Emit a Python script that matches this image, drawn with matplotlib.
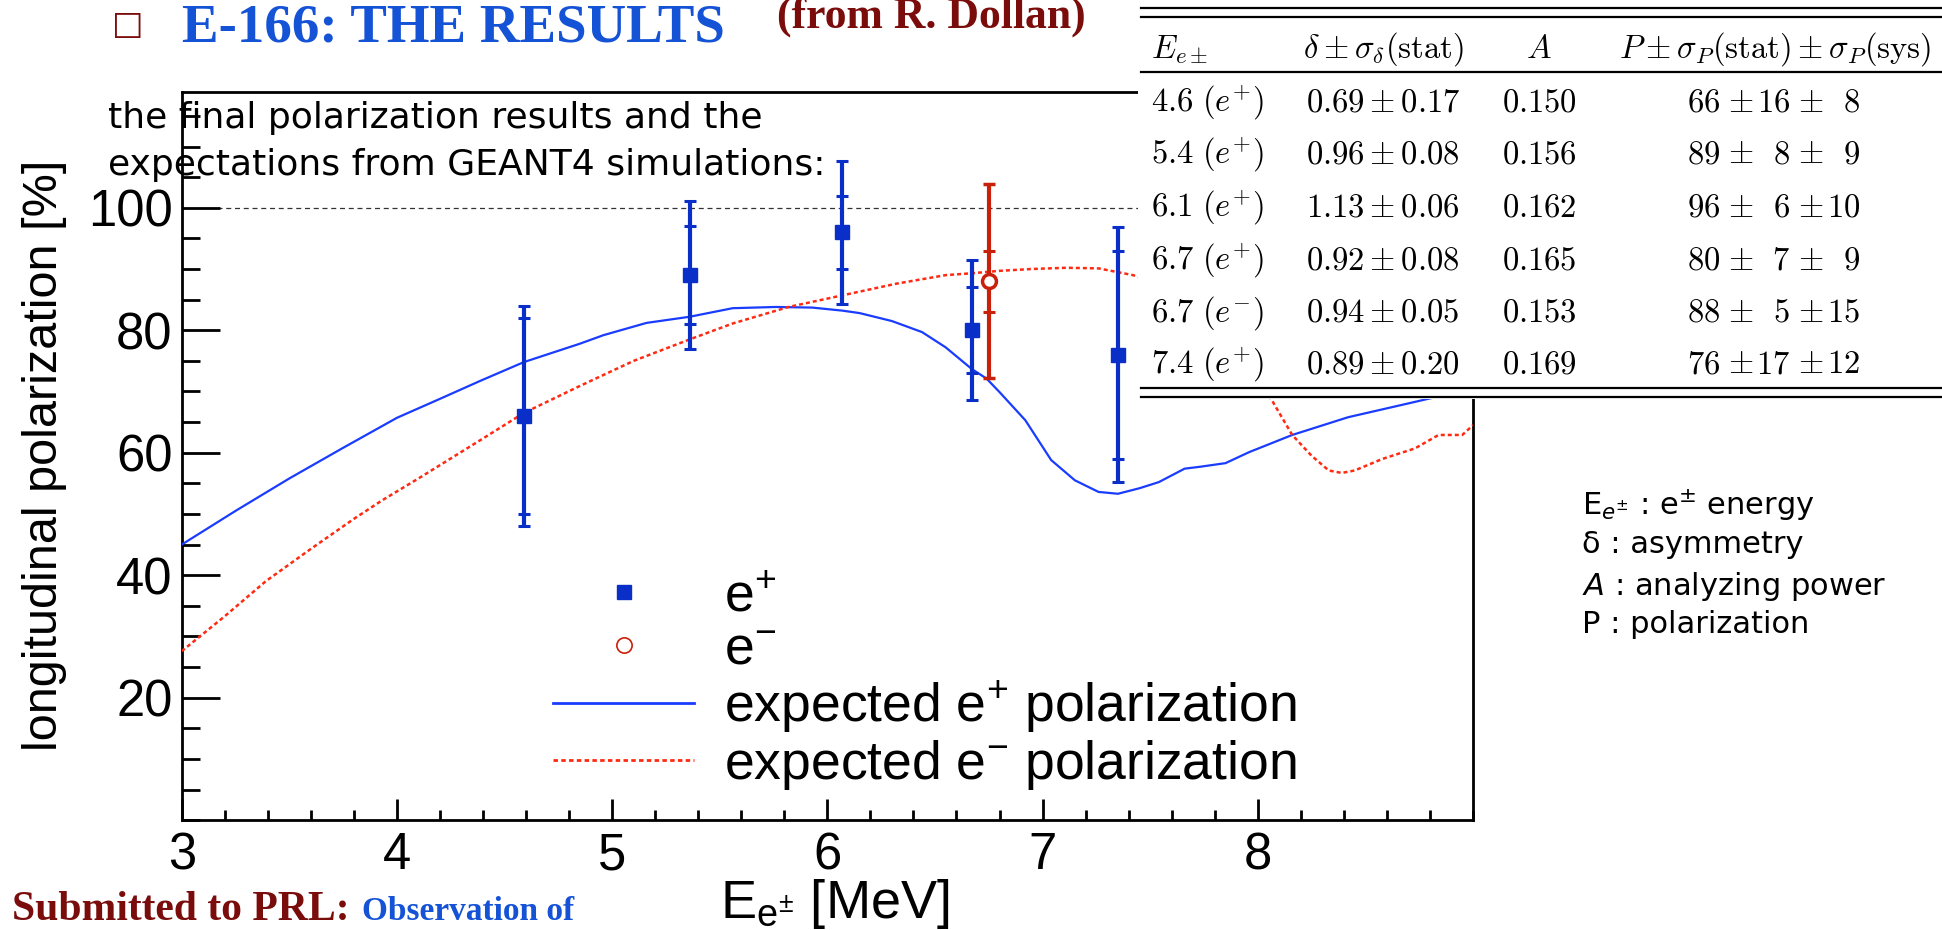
import numpy as np
import matplotlib
matplotlib.use("Agg")
import matplotlib.pyplot as plt
from matplotlib.lines import Line2D
from matplotlib.patches import Rectangle
from matplotlib.ticker import MultipleLocator

plt.rcParams["font.family"] = ["Liberation Sans", "DejaVu Sans"]
plt.rcParams["mathtext.fontset"] = "custom"
plt.rcParams["mathtext.rm"] = "Liberation Sans"
plt.rcParams["mathtext.it"] = "Liberation Sans:italic"
plt.rcParams["mathtext.bf"] = "Liberation Sans:bold"

# ---- measurement table (E-166) ----
table_energy = ["4.6", "5.4", "6.1", "6.7", "6.7", "7.4"]
table_charge = ["+", "+", "+", "+", "-", "+"]
table_delta = ["0.69", "0.96", "1.13", "0.92", "0.94", "0.89"]
table_delta_err = ["0.17", "0.08", "0.06", "0.08", "0.05", "0.20"]
table_A = ["0.150", "0.156", "0.162", "0.165", "0.153", "0.169"]
P_value = [66, 89, 96, 80, 88, 76]
P_stat = [16, 8, 6, 7, 5, 17]
P_sys = [8, 9, 10, 9, 15, 12]

# energies at which the points are drawn (e- slightly shifted for visibility)
plot_energy = [4.59, 5.36, 6.07, 6.67, 6.75, 7.35]

# ---- GEANT4 expectations ----
sim_pos_energy = [3.0, 3.25, 3.5, 3.75, 4.0, 4.2, 4.385, 4.59, 4.85, 4.96, 5.16,
                  5.36, 5.56, 5.76, 5.93, 6.07, 6.15, 6.3, 6.44, 6.55, 6.67, 6.74,
                  6.80, 6.92, 7.04, 7.15, 7.26, 7.35, 7.45, 7.54, 7.66, 7.73, 7.85,
                  7.96, 8.16, 8.42, 8.73, 9.0]
sim_pos_pol = [45.0, 50.5, 55.8, 60.8, 65.7, 68.8, 71.7, 74.8, 77.8, 79.2, 81.2,
               82.2, 83.6, 83.8, 83.7, 83.2, 82.8, 81.5, 79.7, 77.2, 73.7, 72.1,
               69.9, 65.3, 58.8, 55.5, 53.6, 53.3, 54.2, 55.2, 57.4, 57.7, 58.3,
               60.1, 62.9, 65.8, 68.3, 70.5]
sim_ele_energy = [3.0, 3.2, 3.39, 3.6, 3.8, 3.93, 4.1, 4.385, 4.59, 4.85, 5.1,
                  5.36, 5.56, 5.82, 6.07, 6.32, 6.55, 6.67, 6.80, 6.95, 7.11, 7.26,
                  7.42, 7.6, 7.8, 7.95, 8.07, 8.16, 8.25, 8.33, 8.39, 8.45, 8.58,
                  8.73, 8.84, 8.95, 9.0]
sim_ele_pol = [27.6, 33.3, 39.0, 44.3, 49.2, 52.2, 55.8, 62.0, 66.5, 70.9, 75.0,
               78.5, 81.1, 83.8, 85.7, 87.6, 89.0, 89.3, 89.7, 90.0, 90.2, 90.1,
               89.0, 87.0, 81.5, 74.5, 68.3, 62.9, 59.5, 57.1, 56.7, 57.1, 59.0,
               60.7, 62.9, 62.9, 64.5]

x_ticks = [3, 4, 5, 6, 7, 8]
y_ticks = [20, 40, 60, 80, 100]

BLUE_PT = "#0a2ec8"
RED_PT = "#c8200a"
BLUE_LINE = "#1a3cff"
RED_LINE = "#ff2a12"
TITLE_BLUE = "#1452d6"
DARK_RED = "#7a0c0c"

W, H = 1942, 930
fig = plt.figure(figsize=(W / 100, H / 100), dpi=100)


def fx(px):
    return px / W


def fy(py):
    return 1 - py / H


ax = fig.add_axes([fx(181.7), fy(820.2), fx(1473) - fx(181.7), fy(92) - fy(820.2)])
ax.set_xlim(3, 9.0)
ax.set_ylim(0, 118.9)

# simulated curves
ax.plot(sim_pos_energy, sim_pos_pol, color=BLUE_LINE, lw=1.6, zorder=3)
ax.plot(sim_ele_energy, sim_ele_pol, color=RED_LINE, lw=1.8,
        ls=(0, (1.6, 1.2)), zorder=3)
ax.axhline(100, color="#333333", lw=0.9, ls=(0, (4, 3)), zorder=1)

P = np.array(P_value, dtype=float)
stat = np.array(P_stat, dtype=float)
total = np.sqrt(np.array(P_stat, float) ** 2 + np.array(P_sys, float) ** 2)
E = np.array(plot_energy)
is_pos = np.array([c == "+" for c in table_charge])

# positrons
ax.errorbar(E[is_pos], P[is_pos], yerr=total[is_pos], fmt="s", ms=10,
            color=BLUE_PT, ecolor=BLUE_PT, elinewidth=3, capsize=4.5,
            capthick=2.2, zorder=5)
for sgn in (1, -1):
    ax.plot(E[is_pos], P[is_pos] + sgn * stat[is_pos], ls="none", marker="_",
            ms=9, mew=2.2, color=BLUE_PT, zorder=5)

# electrons
ax.errorbar(E[~is_pos], P[~is_pos], yerr=total[~is_pos], fmt="o", ms=10,
            mfc="white", mec=RED_PT, mew=2.5, ecolor=RED_PT, elinewidth=3,
            capsize=4.5, capthick=2.2, zorder=5)
for sgn in (1, -1):
    ax.plot(E[~is_pos], P[~is_pos] + sgn * stat[~is_pos], ls="none", marker="_",
            ms=9, mew=2.2, color=RED_PT, zorder=5)

# axes styling (ROOT look)
ax.set_xticks(x_ticks)
ax.set_yticks(y_ticks)
ax.xaxis.set_minor_locator(MultipleLocator(0.2))
ax.yaxis.set_minor_locator(MultipleLocator(5))
for s in ax.spines.values():
    s.set_linewidth(2)
ax.tick_params(axis="both", which="both", direction="in", top=False, right=False,
               width=2, labelsize=36.5)
ax.tick_params(axis="y", which="major", length=27, pad=6.5)
ax.tick_params(axis="y", which="minor", length=13)
ax.tick_params(axis="x", which="major", length=15, pad=8.0)
ax.tick_params(axis="x", which="minor", length=7.5)

fig.text(fx(45), fy(455), "longitudinal polarization [%]", rotation=90,
         ha="center", va="center", fontsize=35)
fig.text(fx(835), fy(918), r"E$_{\mathrm{e}^{\pm}}$ [MeV]", ha="center",
         va="baseline", fontsize=39)

# legend
handles = [
    Line2D([], [], ls="none", marker="s", ms=10.5, color=BLUE_PT),
    Line2D([], [], ls="none", marker="o", ms=11, mfc="white", mec=RED_PT, mew=1.2),
    Line2D([], [], color=BLUE_LINE, lw=2),
    Line2D([], [], color=RED_LINE, lw=2, ls=(0, (1.6, 1.2))),
]
labels = [r"e$^{+}$", r"e$^{-}$", r"expected e$^{+}$ polarization",
          r"expected e$^{-}$ polarization"]
ax.legend(handles, labels, loc="upper left", bbox_to_anchor=(fx(553), fy(572)),
          bbox_transform=fig.transFigure, frameon=False, fontsize=38.5,
          borderpad=0, borderaxespad=0, handlelength=2.64, handletextpad=0.56,
          labelspacing=0.06)

# white panel carrying the results table
fig.add_artist(Rectangle((fx(1138), fy(399)), fx(1942) - fx(1138), fy(0) - fy(399),
                         transform=fig.transFigure, facecolor="white",
                         edgecolor="none", zorder=2))
for yy in [8.3, 16.7, 71.7, 387.7, 396.7]:
    fig.add_artist(Line2D([fx(1141), fx(1942)], [fy(yy), fy(yy)], color="black",
                          lw=1.6, transform=fig.transFigure, zorder=3))

tkw = dict(math_fontfamily="cm", fontsize=23.5, va="baseline", zorder=4)
fig.text(fx(1151), fy(58), r"$E_{e\pm}$", ha="left", **tkw)
fig.text(fx(1303), fy(58), r"$\delta \pm \sigma_\delta(\mathrm{stat})$", ha="left", **tkw)
fig.text(fx(1539), fy(58), r"$A$", ha="center", **tkw)
fig.text(fx(1775), fy(58),
         r"$P \pm \sigma_P(\mathrm{stat}) \pm \sigma_P(\mathrm{sys})$",
         ha="center", **tkw)
row_base = [111.7, 163.3, 216.7, 270.0, 321.7, 373.3]
for i in range(len(table_energy)):
    yb = fy(row_base[i])
    fig.text(fx(1151), yb, r"$%s\ (e^{%s})$" % (table_energy[i], table_charge[i]),
             ha="left", **tkw)
    fig.text(fx(1306), yb, r"$%s \pm %s$" % (table_delta[i], table_delta_err[i]),
             ha="left", **tkw)
    fig.text(fx(1539), yb, r"$%s$" % table_A[i], ha="center", **tkw)
    fig.text(fx(1720), yb, r"$%d$" % P_value[i], ha="right", **tkw)
    fig.text(fx(1741), yb, r"$\pm$", ha="center", **tkw)
    fig.text(fx(1790), yb, r"$%d$" % P_stat[i], ha="right", **tkw)
    fig.text(fx(1811), yb, r"$\pm$", ha="center", **tkw)
    fig.text(fx(1860), yb, r"$%d$" % P_sys[i], ha="right", **tkw)

# notes and headings
note_kw = dict(family="DejaVu Sans", fontsize=26, va="baseline", ha="left")
fig.text(fx(108), fy(128), "the final polarization results and the", **note_kw)
fig.text(fx(108), fy(175), "expectations from GEANT4 simulations:", **note_kw)

def_kw = dict(family="DejaVu Sans", fontsize=22, va="baseline", ha="left",
              math_fontfamily="dejavusans")
fig.text(fx(1582), fy(515), r"E$_{e^{\pm}}$ : e$^{\pm}$ energy", **def_kw)
fig.text(fx(1582), fy(553), "δ : asymmetry", **def_kw)
fig.text(fx(1582), fy(595), r"$A$ : analyzing power", **def_kw)
fig.text(fx(1582), fy(633), "P : polarization", **def_kw)

fig.text(fx(128), fy(25), "□", family="DejaVu Sans", fontweight="bold",
         fontsize=24, color=DARK_RED, ha="center", va="center")
fig.text(fx(182), fy(42), "E-166: THE RESULTS", family="Liberation Serif",
         fontweight="bold", fontsize=39.5, color=TITLE_BLUE, va="baseline")
fig.text(fx(777), fy(28), "(from R. Dollan)", family="Liberation Serif",
         fontweight="bold", fontsize=31.5, color=DARK_RED, va="baseline")
fig.text(fx(12), fy(920), "Submitted to PRL:", family="Liberation Serif",
         fontweight="bold", fontsize=30, color=DARK_RED, va="baseline")
fig.text(fx(362), fy(920), "Observation of", family="Liberation Serif",
         fontweight="bold", fontsize=24, color=TITLE_BLUE, va="baseline")

fig.savefig("out.png", dpi=100)
